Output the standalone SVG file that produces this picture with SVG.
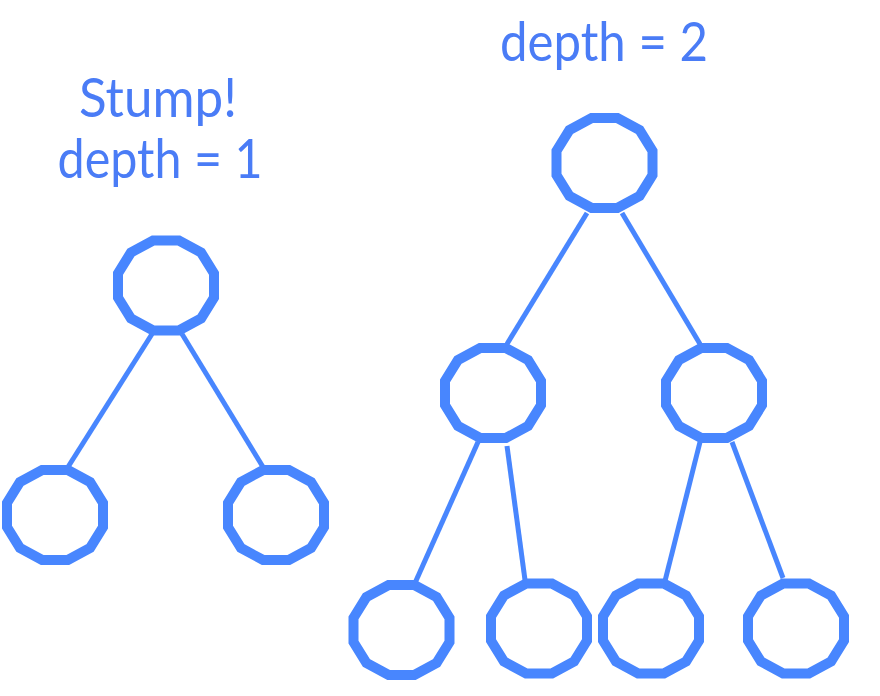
<svg xmlns="http://www.w3.org/2000/svg" xmlns:xlink="http://www.w3.org/1999/xlink" width="880" height="696" viewBox="0 0 880 696">
<style>
.lbl{font-family:Lato,"Open Sans","Liberation Sans",sans-serif;font-size:54px;fill:#4a7cf6;text-anchor:middle}
.edge{stroke:#4886fe;stroke-width:5;fill:none;stroke-linecap:butt}
.node{fill:#ffffff;stroke:#4886fe;stroke-width:10;stroke-linejoin:miter}
</style>
<defs>
<polygon id="dodec" points="48,12.1 35.1,33 12.9,45 -12.9,45 -35.1,33 -48,12.1 -48,-12.1 -35.1,-33 -12.9,-45 12.9,-45 35.1,-33 48,-12.1"/>
</defs>
<rect width="880" height="696" fill="#ffffff"/>
<g id="labels">
<text class="lbl" x="158" y="117" textLength="158" lengthAdjust="spacingAndGlyphs">Stump!</text>
<text class="lbl" x="160" y="178" textLength="205" lengthAdjust="spacingAndGlyphs">depth = 1</text>
<text class="lbl" x="604" y="61" textLength="208" lengthAdjust="spacingAndGlyphs">depth = 2</text>
</g>
<g id="connectors">
<line class="edge" x1="152" y1="334" x2="68" y2="467"/>
<line class="edge" x1="182" y1="334" x2="263" y2="467"/>
<line class="edge" x1="587" y1="213" x2="507" y2="344"/>
<line class="edge" x1="622" y1="213" x2="700" y2="344"/>
<line class="edge" x1="478" y1="442" x2="415" y2="583"/>
<line class="edge" x1="507" y1="446" x2="525" y2="580"/>
<line class="edge" x1="700" y1="442" x2="665" y2="581"/>
<line class="edge" x1="732" y1="442" x2="783" y2="578"/>
</g>
<g id="stump-root"><use xlink:href="#dodec" class="node" transform="translate(166,285.5)"/></g>
<g id="stump-left"><use xlink:href="#dodec" class="node" transform="translate(55,515)"/></g>
<g id="stump-right"><use xlink:href="#dodec" class="node" transform="translate(276,515)"/></g>
<g id="d2-root"><use xlink:href="#dodec" class="node" transform="translate(604.5,163)"/></g>
<g id="d2-mid-left"><use xlink:href="#dodec" class="node" transform="translate(493,393)"/></g>
<g id="d2-mid-right"><use xlink:href="#dodec" class="node" transform="translate(714,393)"/></g>
<g id="d2-leaf-1"><use xlink:href="#dodec" class="node" transform="translate(401.5,630)"/></g>
<g id="d2-leaf-2"><use xlink:href="#dodec" class="node" transform="translate(539,628.5)"/></g>
<g id="d2-leaf-3"><use xlink:href="#dodec" class="node" transform="translate(651,628.5)"/></g>
<g id="d2-leaf-4"><use xlink:href="#dodec" class="node" transform="translate(796,628.5)"/></g>
</svg>
